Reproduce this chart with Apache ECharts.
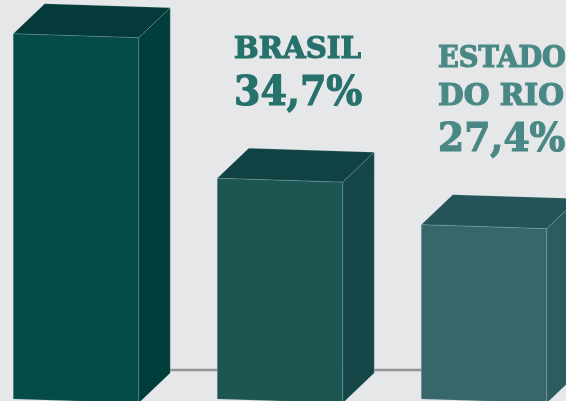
<!DOCTYPE html>
<html>
<head>
<meta charset="utf-8">
<style>
  html, body { margin: 0; padding: 0; background: #e6e7e9; }
  #chart { width: 566px; height: 401px; }
</style>
<script src="https://cdn.jsdelivr.net/npm/echarts@6/dist/echarts.min.js"></script>
</head>
<body>
<div id="chart"></div>
<script>
  // first bar has no visible label, value read from its height
  var positions = [0, 1, 2];
  var values = [57.4, 34.7, 27.4];

  var frontColors = ['#054b47', '#1c5652', '#37676b'];
  var topColors = ['#043a3a', '#114243', '#245457'];
  var sideColors = ['#013d3a', '#154748', '#2c5c5d'];

  var myChart = echarts.init(document.getElementById('chart'));

  function face(points, color) {
    return {
      type: 'polygon',
      shape: {points: points},
      style: {fill: color, stroke: 'rgba(190,215,215,0.3)', lineWidth: 0.6}
    };
  }

  function renderBar(params, api) {
    var i = api.value(0);
    var top = api.coord([i, api.value(1)]);
    var base = api.coord([i, 0]);
    var next = api.coord([i + 1, 0]);
    var w = api.size([1, 0])[0] * 0.615;
    var dx = 31.5, dy = -30, tilt = 4;
    var l = top[0] - w / 2, r = top[0] + w / 2;
    var tl = [l, top[1]], tr = [r, top[1] + tilt];
    var bl = [l, base[1]], br = [r, base[1] + tilt];
    return {
      type: 'group',
      children: [
        // floor line running from the back of this bar to the next one
        {
          type: 'line',
          shape: {x1: r + dx, y1: base[1] - 29, x2: next[0] - w / 2, y2: base[1] - 29},
          style: {stroke: '#939496', lineWidth: 2.6}
        },
        face([[l + dx, top[1] + dy], [r + dx, top[1] + dy + tilt], tr, tl], topColors[i]),
        face([tr, [r + dx, top[1] + dy + tilt], [r + dx, base[1] + dy + tilt], br], sideColors[i]),
        face([tl, tr, br, bl], frontColors[i])
      ]
    };
  }

  function label(text, x, y, size, scaleX, color) {
    return {
      type: 'text',
      x: x,
      y: y,
      scaleX: scaleX,
      style: {
        text: text,
        fill: color,
        stroke: color,
        lineWidth: 1.2,
        font: 'bold ' + size + 'px "DejaVu Serif"',
        align: 'left',
        verticalAlign: 'middle'
      }
    };
  }

  var option = {
    backgroundColor: '#e6e7e9',
    animation: false,
    grid: {left: 0, right: 0, top: 0, bottom: 2},
    xAxis: {
      type: 'value',
      min: -0.3725,
      max: 2.402,
      show: false,
      splitLine: {show: false}
    },
    yAxis: {
      type: 'value',
      min: 0,
      max: 62.7,
      show: false,
      splitLine: {show: false}
    },
    series: [{
      type: 'custom',
      renderItem: renderBar,
      encode: {x: 0, y: 1},
      data: values.map(function (v, i) {
        return [positions[i], v];
      })
    }],
    graphic: [
      label('BRASIL', 234, 50, 30, 0.975, '#26716c'),
      label('34,7%', 234, 94, 41, 0.925, '#26716c'),
      label('ESTADO', 438, 59, 29, 0.94, '#4a8886'),
      label('DO RIO', 438, 97, 29, 1.02, '#4a8886'),
      label('27,4%', 438, 141, 40, 0.94, '#4a8886')
    ]
  };
  myChart.setOption(option);
</script>
</body>
</html>
